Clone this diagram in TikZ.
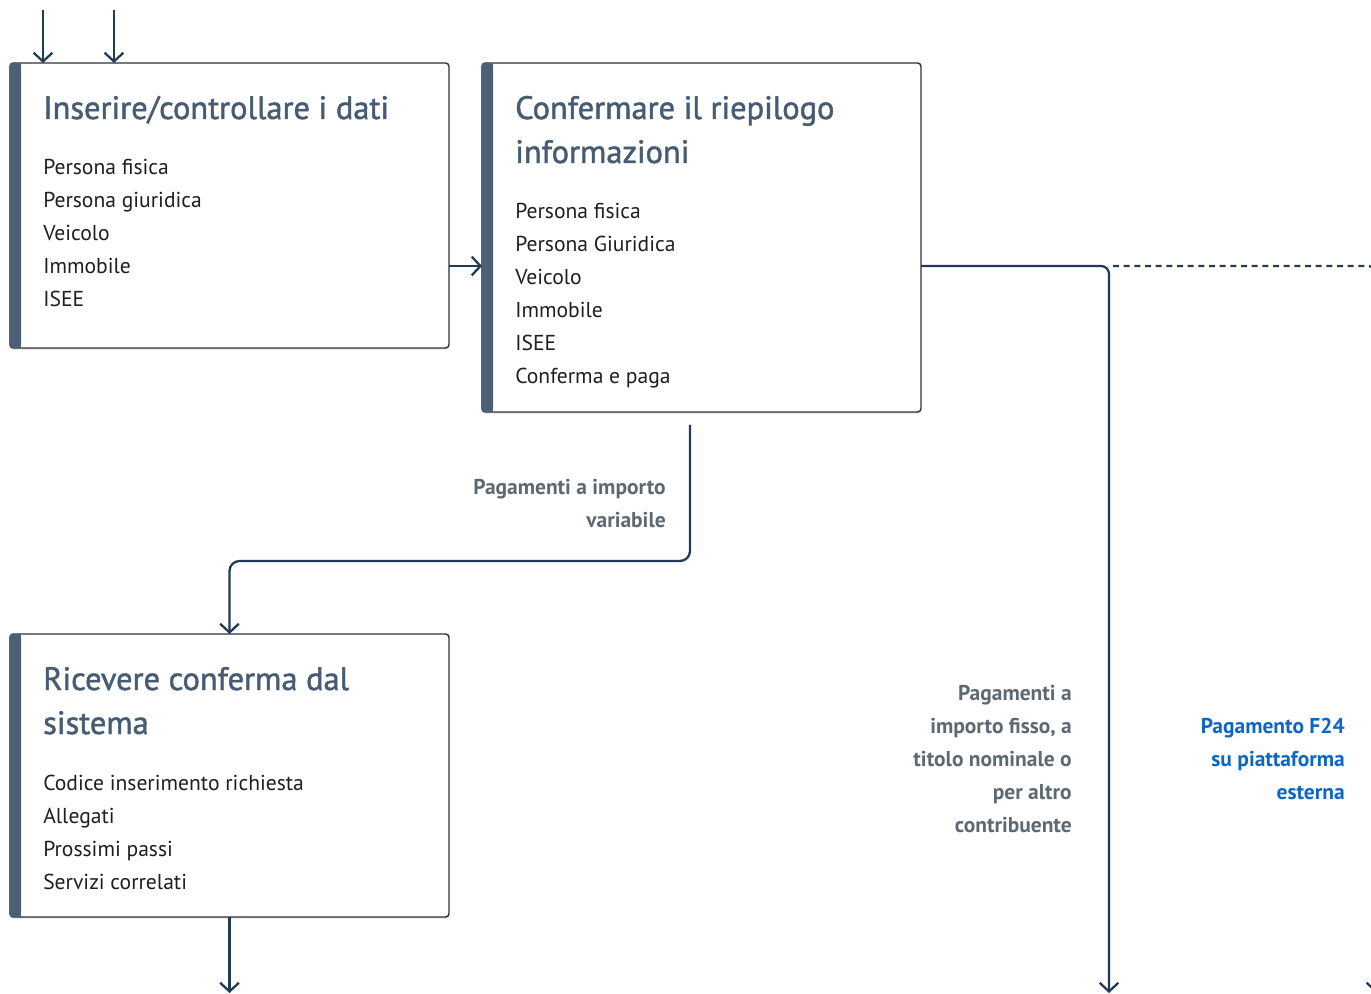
\documentclass[tikz,border=0pt]{standalone}
\usepackage{fontspec}
\setmainfont{PT Sans}
\newfontfamily\titlefont{PT Sans}[FakeBold=1.4]
\usetikzlibrary{arrows.meta,positioning,calc,shadows}
\definecolor{cNavy}{HTML}{1F3B57}
\definecolor{cSlate}{HTML}{4C5F74}
\definecolor{cTitle}{HTML}{475C72}
\definecolor{cGrey}{HTML}{5D6873}
\definecolor{cBlue}{HTML}{0B66C6}
\definecolor{cBorder}{HTML}{2E3135}

\begin{document}
\begin{tikzpicture}[x=.75pt,y=-.75pt,
  edge/.style={line width=1.7pt,draw=cNavy,-{Straight Barb[length=6.5pt,width=14pt]}},
  card/.style={draw=cBorder,line width=1.1pt,rounded corners=2.5pt,fill=white,anchor=north west,
    inner sep=0pt,outer sep=0pt,minimum width=329.25pt,
    drop shadow={shadow xshift=0pt,shadow yshift=-1.2pt,opacity=.12,fill=black}},
  ttl/.style={font=\titlefont\fontsize{24.3}{29}\selectfont,text=cTitle,anchor=base west,inner sep=0pt},
  itm/.style={font=\fontsize{16.2}{19}\selectfont,text=black!88,anchor=base west,inner sep=0pt},
  lbl/.style={font=\fontsize{16.1}{19}\selectfont\bfseries,text=cGrey,anchor=base east,inner sep=0pt}]
\path[use as bounding box] (0,0) rectangle (1371,994);
\clip (0,0) rectangle (1371,994);
% cards
\node[card,minimum height=213.75pt] (b1) at (10,63) {};
\node[card,minimum height=261.75pt] (b2) at (482,63) {};
\node[card,minimum height=212.25pt] (b3) at (10,634) {};
\foreach \b in {b1,b2,b3}{
  \fill[cSlate,rounded corners=2.5pt] ([xshift=-.5pt]\b.north west) rectangle ([xshift=8.25pt]\b.south west);
  \fill[cSlate] ([xshift=4pt]\b.north west) rectangle ([xshift=8.25pt]\b.south west);
}
% texts
\node[ttl] (t1) at (43,119) {Inserire/controllare i dati};
\foreach \i/\txt in {0/Persona fisica,1/Persona giuridica,2/Veicolo,3/Immobile,4/ISEE}
  \node[itm] (a\i) at (43,175+33*\i) {\txt};
\node[ttl] (t2a) at (515,119) {Confermare il riepilogo};
\node[ttl] (t2b) at (515,163) {informazioni};
\foreach \i/\txt in {0/Persona fisica,1/Persona Giuridica,2/Veicolo,3/Immobile,4/ISEE,5/Conferma e paga}
  \node[itm] (c\i) at (515,219+33*\i) {\txt};
\node[ttl] (t3a) at (43,690) {Ricevere conferma dal};
\node[ttl] (t3b) at (43,734) {sistema};
\foreach \i/\txt in {0/Codice inserimento richiesta,1/Allegati,2/Prossimi passi,3/Servizi correlati}
  \node[itm] (r\i) at (43,790+33*\i) {\txt};
% labels
\node[lbl] (v0) at (666,495) {Pagamenti a importo};
\node[lbl] (v1) at (666,528) {variabile};
\foreach \i/\txt in {0/Pagamenti a,1/{importo fisso, a},2/titolo nominale o,3/per altro,4/contribuente}
  \node[lbl] (f\i) at (1072,700+33*\i) {\txt};
\foreach \i/\txt in {0/Pagamento F24,1/su piattaforma,2/esterna}
  \node[lbl,text=cBlue] (e\i) at (1345,733+33*\i) {\txt};
% connectors
\coordinate (in1) at (43,10);
\coordinate (in2) at (114,10);
\coordinate (lvl) at (0,266);
\coordinate (turn) at (1109,266);
\coordinate (down) at (1109,993);
\coordinate (ext) at (1376,266);
\coordinate (split) at (690,561);
\draw[edge] (in1) -- (in1 |- b1.north);
\draw[edge] (in2) -- (in2 |- b1.north);
\draw[edge] (b1.east |- lvl) -- (b2.west |- lvl);
\draw[edge,rounded corners=6pt] (b2.east |- lvl) -- (turn) -- (down);
\draw[edge,dash pattern=on 4.5pt off 3.5pt,rounded corners=6pt] ([xshift=3pt]turn) -- (ext) -- (ext |- down);
\draw[edge,shorten <=9.75pt,rounded corners=7.5pt] (b2.south -| split) -- (split) -| (b3.north);
\draw[edge] (b3.south) -- (b3.south |- down);
\end{tikzpicture}
\end{document}
